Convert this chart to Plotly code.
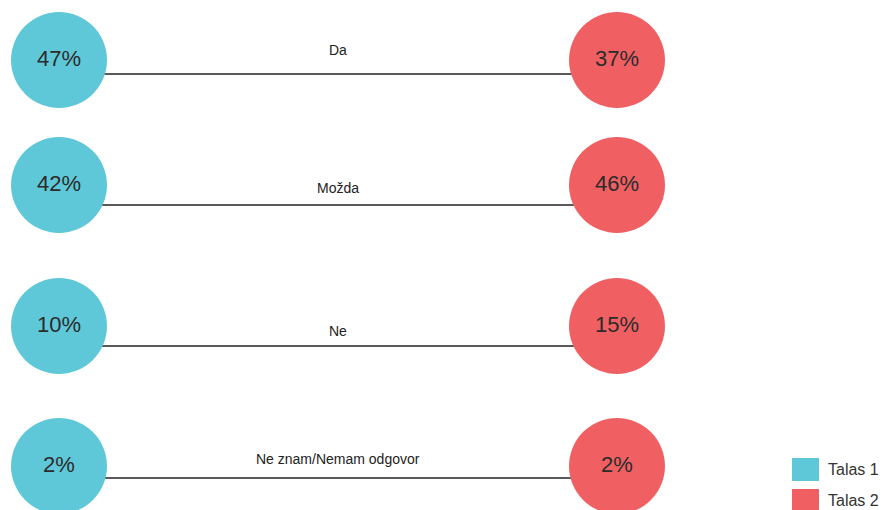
import plotly.graph_objects as go

# survey answers, two waves
answers = ["Da", "Možda", "Ne", "Ne znam/Nemam odgovor"]
talas_1 = [47, 42, 10, 2]
talas_2 = [37, 46, 15, 2]
series_names = ["Talas 1", "Talas 2"]

# layout (page pixel coordinates, y down)
row_y = [60, 185, 326, 466]
line_y = [74, 205, 346, 478]
label_y = [50, 188, 331, 459]
left_x = 59
right_x = 617
colors = ["#5ec8d8", "#f06062"]
font = "Liberation Sans, Arial, sans-serif"
off = 8  # page body margin

fig = go.Figure()

# connecting lines
for i in range(len(answers)):
    fig.add_trace(go.Scatter(x=[left_x, right_x], y=[line_y[i], line_y[i]], mode="lines",
                             line=dict(color="#222222", width=1.5), hoverinfo="skip", showlegend=False))

# circles
for vals, xpos, col, name in [(talas_1, left_x, colors[0], series_names[0]),
                              (talas_2, right_x, colors[1], series_names[1])]:
    fig.add_trace(go.Scatter(x=[xpos] * len(vals), y=row_y, mode="markers+text",
                             marker=dict(size=96, color=col, line=dict(width=0)),
                             text=[f"{v}%" for v in vals], textposition="middle center",
                             textfont=dict(size=22, color="#2b2b2b", family=font),
                             name=name, showlegend=False, cliponaxis=False))

# answer labels
for i, a in enumerate(answers):
    fig.add_annotation(x=(left_x + right_x) / 2, y=label_y[i], text=a, showarrow=False,
                       font=dict(size=14, color="#222222", family=font))

# legend drawn by hand
legend_y = [469, 500]
for i, name in enumerate(series_names):
    fig.add_shape(type="rect", x0=792, x1=819, y0=legend_y[i] - 11, y1=legend_y[i] + 12,
                  fillcolor=colors[i], line=dict(width=0), layer="above")
    fig.add_annotation(x=826, y=legend_y[i], text=name, showarrow=False, xanchor="left",
                       font=dict(size=16, color="#333333", family=font))

fig.update_xaxes(range=[off, 888], visible=False, fixedrange=True)
fig.update_yaxes(range=[510, off], visible=False, fixedrange=True)
fig.update_layout(width=888 - off, height=510 - off, margin=dict(l=0, r=0, t=0, b=0),
                  plot_bgcolor="white", paper_bgcolor="white", showlegend=False)

fig.write_html("out.html")
